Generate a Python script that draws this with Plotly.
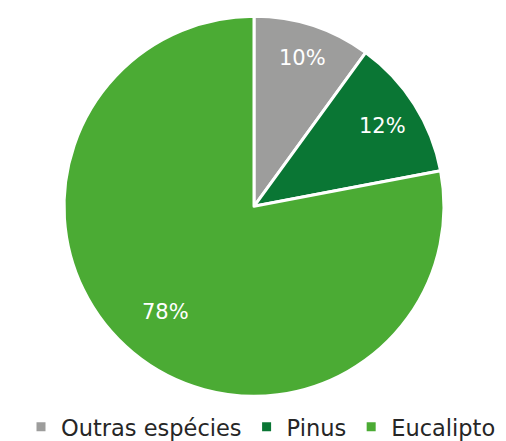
import math
import plotly.graph_objects as go

labels = ["Outras espécies", "Pinus", "Eucalipto"]
values = [10, 12, 78]
colors = ["#9d9d9c", "#0a7634", "#4bab34"]

W, H = 506, 441
# page offset of 8px (body margin) is compensated here
cx, cy, r = 246, 201.5, 193
label_r = [0.82, 0.79, 0.72]

dom_x = [(cx - r) / W, (cx + r) / W]
dom_y = [(H - cy - r) / H, (H - cy + r) / H]

fig = go.Figure(go.Pie(
    labels=labels,
    values=values,
    sort=False,
    direction="clockwise",
    rotation=0,
    marker=dict(colors=colors, line=dict(color="white", width=3)),
    textinfo="none",
    domain=dict(x=dom_x, y=dom_y),
    hoverinfo="skip",
))

total = sum(values)
cum = 0
for v, lr in zip(values, label_r):
    mid = (cum + v / 2) / total * 2 * math.pi
    cum += v
    px = cx + lr * r * math.sin(mid)
    py = cy - lr * r * math.cos(mid)
    fig.add_annotation(
        x=px / W, y=(H - py) / H, xref="paper", yref="paper",
        text=f"{round(v / total * 100)}%", showarrow=False,
        font=dict(color="white", size=21, family="DejaVu Sans"),
        xanchor="center", yanchor="middle",
    )

fig.update_layout(
    width=W, height=H,
    margin=dict(l=0, r=0, t=0, b=0),
    paper_bgcolor="white",
    showlegend=True,
    legend=dict(
        orientation="h",
        x=0.5, xanchor="center",
        y=(H - 426) / H, yanchor="middle",
        font=dict(size=22.5, family="DejaVu Sans", color="#262626"),
        itemwidth=30,
        traceorder="normal",
    ),
)

fig.write_html("out.html")
